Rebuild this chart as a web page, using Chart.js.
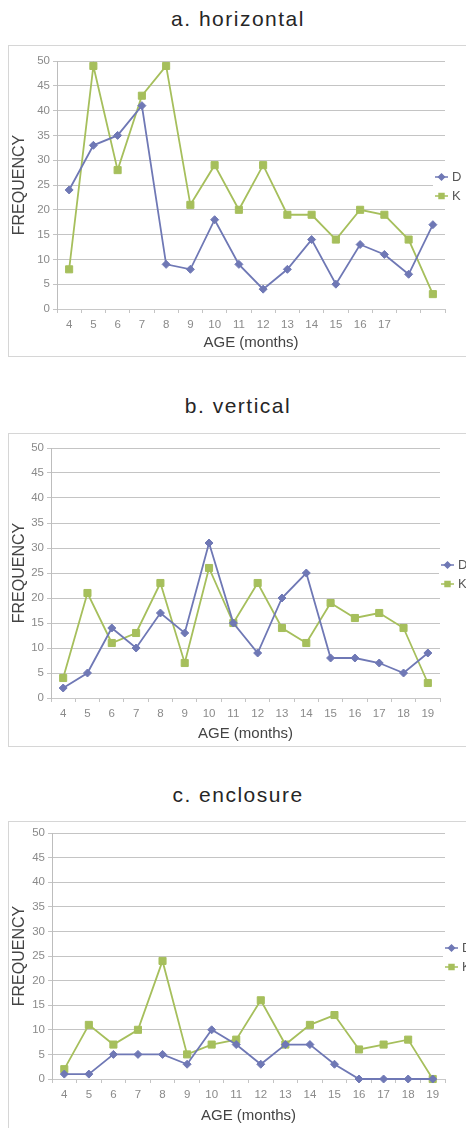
<!DOCTYPE html>
<html>
<head>
<meta charset="utf-8">
<script src="https://cdn.jsdelivr.net/npm/chart.js@4.4.0/dist/chart.umd.min.js"></script>
<style>
body{margin:0;width:466px;height:1128px;overflow:hidden;background:#fff;position:relative;font-family:"Liberation Sans",Arial,sans-serif}
.ttl{position:absolute;left:8px;width:460px;text-align:center;font-size:21px;line-height:24px;letter-spacing:1.5px;color:#262626}
.box{position:absolute;left:8px;width:470px;border:1px solid #d6d6d6;box-sizing:border-box}
canvas{position:absolute;left:0}
</style>
</head>
<body>
<div class="ttl" style="top:7px">a. horizontal</div>
<div class="box" style="top:45px;height:312px"></div>
<canvas id="chartA" width="466" height="311" style="top:45px"></canvas>

<div class="ttl" style="top:394px">b. vertical</div>
<div class="box" style="top:433px;height:314px"></div>
<canvas id="chartB" width="466" height="313" style="top:433px"></canvas>

<div class="ttl" style="top:783px">c. enclosure</div>
<div class="box" style="top:821px;height:320px"></div>
<canvas id="chartC" width="466" height="307" style="top:821px"></canvas>

<script>
// age categories (months)
var agesA = ['4','5','6','7','8','9','10','11','12','13','14','15','16','17','',''];
var ages = ['4','5','6','7','8','9','10','11','12','13','14','15','16','17','18','19'];

// a. horizontal
var horizD = [24,33,35,41,9,8,18,9,4,8,14,5,13,11,7,17];
var horizK = [8,49,28,43,49,21,29,20,29,19,19,14,20,19,14,3];
// b. vertical
var vertD = [2,5,14,10,17,13,31,15,9,20,25,8,8,7,5,9];
var vertK = [4,21,11,13,23,7,26,15,23,14,11,19,16,17,14,3];
// c. enclosure
var enclD = [1,1,5,5,5,3,10,7,3,7,7,3,0,0,0,0];
var enclK = [2,11,7,10,24,5,7,8,16,7,11,13,6,7,8,0];

var BLUE = '#6f78b5';
var GREEN = '#a6bf5c';

Chart.defaults.font.family = '"Liberation Sans", Arial, sans-serif';

// Excel style legend sitting over the right edge of the plot
var sideLegend = {
    id:'sideLegend',
    afterDraw:function(chart, args, opts){
        var ctx = chart.ctx, a = chart.chartArea;
        var mid = (a.top + a.bottom)/2;
        var lx = opts.x;
        ctx.save();
        ctx.fillStyle = '#fff';
        ctx.fillRect(lx-2, mid-19, chart.width-lx+2, 40);
        chart.data.datasets.forEach(function(ds, i){
            var y = mid - 8 + i*19;
            ctx.strokeStyle = ds.borderColor;
            ctx.fillStyle = ds.backgroundColor;
            ctx.lineWidth = 1.5;
            ctx.beginPath(); ctx.moveTo(lx, y); ctx.lineTo(lx+13, y); ctx.stroke();
            Chart.helpers.drawPoint(ctx, {pointStyle:ds.pointStyle, radius:i ? 3.5 : 3, rotation:0, borderWidth:1}, lx+6.5, y);
            ctx.fillStyle = '#555';
            ctx.font = '13px "Liberation Sans", Arial, sans-serif';
            ctx.textBaseline = 'middle';
            ctx.fillText(ds.label, lx+17, y);
        });
        ctx.restore();
    }
};

function build(id, labels, d, k, o){
    new Chart(document.getElementById(id).getContext('2d'), {
        type:'line',
        data:{
            labels:labels,
            datasets:[{
                label:'D',
                data:d,
                borderColor:BLUE,
                backgroundColor:BLUE,
                borderWidth:1.8,
                pointStyle:'rectRot',
                pointRadius:4,
                pointBorderWidth:1,
                clip:false
            },{
                label:'K',
                data:k,
                borderColor:GREEN,
                backgroundColor:GREEN,
                borderWidth:1.8,
                pointStyle:'rect',
                pointRadius:5,
                pointBorderWidth:1,
                clip:false
            }]
        },
        options:{
            responsive:false,
            animation:false,
            layout:{padding:{top:o.top, right:466-o.right, left:0, bottom:0}},
            plugins:{legend:{display:false}, tooltip:{enabled:false}, sideLegend:{x:o.lx}},
            scales:{
                x:{
                    offset:true,
                    grid:{offset:true, drawOnChartArea:false, tickLength:4, color:'#c4c4c4'},
                    border:{color:'#c8c8c8'},
                    ticks:{color:'#8a8a8a', font:{size:11.5}, padding:5, maxRotation:0, autoSkip:false},
                    title:{display:true, text:'AGE (months)', color:'#444', font:{size:15}, padding:{top:0, bottom:o.xt}},
                    afterFit:function(s){ s.height = o.xh; }
                },
                y:{
                    min:0, max:50,
                    ticks:{stepSize:5, color:'#8a8a8a', font:{size:11.5}, padding:3},
                    grid:{color:'#c4c4c4', tickLength:4},
                    border:{color:'#bdbdbd'},
                    title:{display:true, text:'FREQUENCY', color:'#444', font:{size:16}, padding:{top:10, bottom:0}},
                    afterFit:function(s){ s.width = o.left; }
                }
            }
        },
        plugins:[sideLegend]
    });
}

build('chartA', agesA, horizD, horizK, {top:16, left:57, right:445, xh:47, xt:4, lx:435});
build('chartB', ages, vertD, vertK, {top:15, left:51, right:440, xh:48, xt:3, lx:441});
build('chartC', ages, enclD, enclK, {top:12, left:52, right:445, xh:49, xt:3, lx:445});
</script>
</body>
</html>
